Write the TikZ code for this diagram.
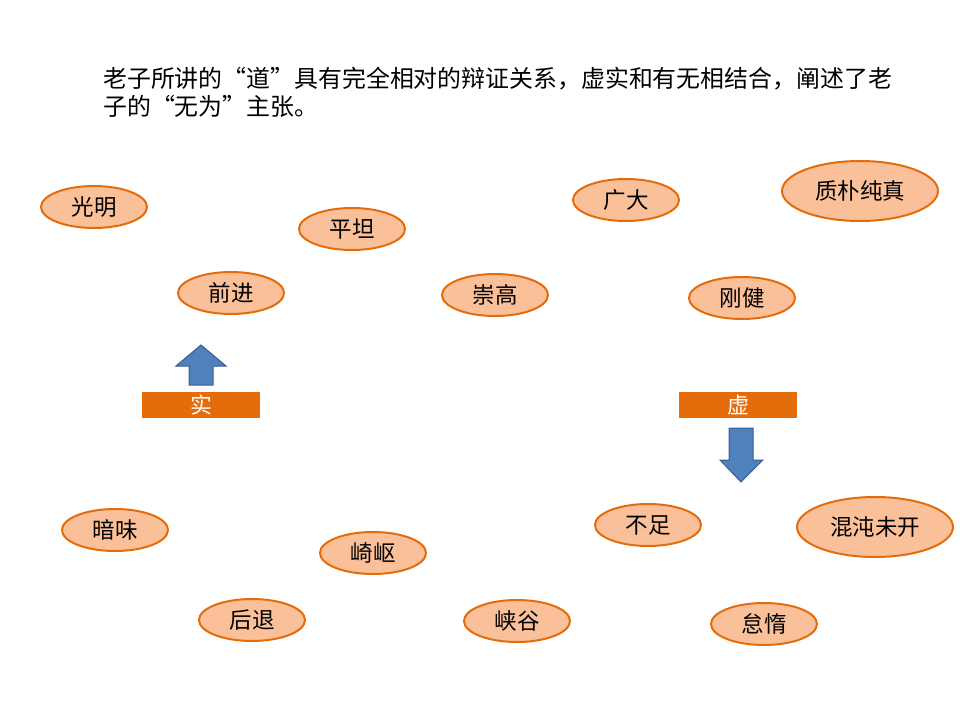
\documentclass[tikz,border=0pt]{standalone}
\usepackage{fontspec}
\setmainfont{Noto Sans CJK SC}
\usetikzlibrary{shapes.geometric}
\definecolor{ovalfill}{HTML}{FAC09A}
\definecolor{ovalline}{HTML}{E46C0A}
\definecolor{barfill}{HTML}{E46C0A}
\definecolor{arrfill}{HTML}{4F81BD}
\definecolor{arrline}{HTML}{385D8A}
\tikzset{
  oval/.style={ellipse, draw=ovalline, fill=ovalfill, line width=2pt,
    minimum width=106pt, minimum height=42pt, inner sep=0pt,
    font=\fontsize{22.5}{24}\selectfont},
  bigoval/.style={oval, minimum width=156pt, minimum height=60pt},
  bar/.style={fill=barfill, minimum width=118pt, minimum height=26pt,
    inner sep=0pt, text=white, font=\fontsize{22}{24}\selectfont},
  blockarrow/.style={fill=arrfill, draw=arrline, line width=1pt}
}
\begin{document}
\begin{tikzpicture}[x=1pt, y=-1pt]
  \useasboundingbox (0,0) rectangle (960,720);
  \node[anchor=north west, align=left, inner sep=0pt,
    font=\fontsize{23.9}{28}\selectfont] (title) at (103,67)
    {老子所讲的“道”具有完全相对的辩证关系，虚实和有无相结合，阐述了老\\子的“无为”主张。};
  % upper group
  \node[oval] (guangming) at (94,207) {光明};
  \node[oval] (pingtan) at (352,229) {平坦};
  \node[oval] (qianjin) at (231,293) {前进};
  \node[oval] (chonggao) at (495,295) {崇高};
  \node[oval] (guangda) at (626,200) {广大};
  \node[bigoval] (zhipu) at (860,191) {质朴纯真};
  \node[oval] (gangjian) at (742,298) {刚健};
  % lower group
  \node[oval] (anmei) at (115,530) {暗味};
  \node[oval] (qiqu) at (373,553) {崎岖};
  \node[oval] (houtui) at (252,620) {后退};
  \node[oval] (xiagu) at (517,621) {峡谷};
  \node[oval] (buzu) at (648,525) {不足};
  \node[bigoval] (hundun) at (875,527) {混沌未开};
  \node[oval] (daiduo) at (764,624) {怠惰};
  % bars and arrows
  \node[bar] (shi) at (201,405) {实};
  \node[bar] (xu) at (738,405) {虚};
  \draw[blockarrow] (189,385) -- (189,366) -- (176,366) -- (201,345)
    -- (226,366) -- (213,366) -- (213,385) -- cycle;
  \draw[blockarrow] (729,428) -- (729,460) -- (720,460) -- (741,482)
    -- (763,460) -- (753,460) -- (753,428) -- cycle;
\end{tikzpicture}
\end{document}
